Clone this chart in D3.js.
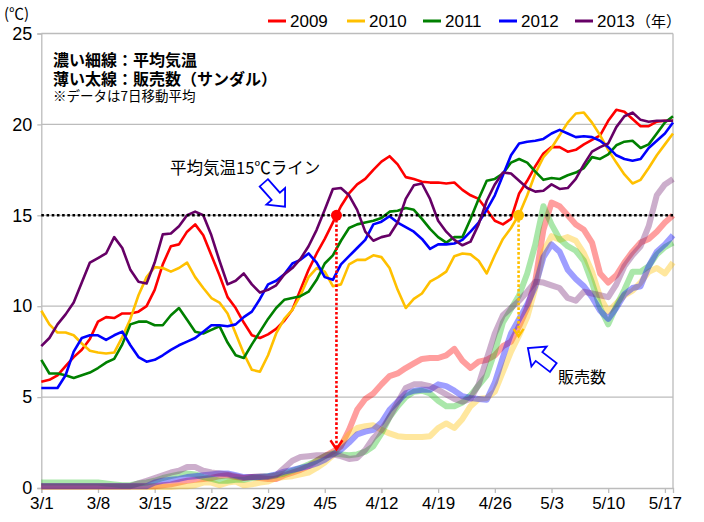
<!DOCTYPE html>
<html>
<head>
<meta charset="utf-8">
<script src="https://cdn.jsdelivr.net/npm/d3@7"></script>
<style>
body { margin: 0; background: #fff; }
svg text { font-family: "Liberation Sans", Arial, sans-serif; fill: #000; }
svg text.jp { font-family: "Noto Sans CJK JP", sans-serif; }
</style>
</head>
<body>
<script>
// 7-day moving averages, 3/1 .. 5/18 (one value per day)
temp2009 = [5.85,5.95,6.2,6.7,7.2,7.6,8.2,9.15,9.4,9.35, 9.6,9.6,9.7,10.0,10.9,12.3,13.3,13.4,14.1,14.5,
            13.9,12.8,11.7,10.5,9.9,9.1,8.4,8.25,8.45,8.75, 9.2,9.8,10.9,12.0,12.9,13.7,14.6,15.5,16.2,16.7,
            17.0,17.5,17.95,18.25,17.8,17.1,17.0,16.85,16.8,16.8, 16.75,16.8,16.4,16.1,15.9,15.3,14.7,14.5,14.8,16.2,
            16.9,17.7,18.4,18.75,18.75,18.5,18.6,18.9,19.15,19.4, 20.2,20.8,20.7,20.3,19.9,19.9,20.15,20.2,20.2];
temp2010 = [9.75,9.0,8.55,8.55,8.4,7.95,7.55,7.45,7.4,7.45, 8.3,9.3,10.6,11.6,12.15,12.1,11.9,12.1,12.4,11.6,
            11.0,10.45,10.2,9.6,8.5,7.4,6.5,6.4,7.3,8.5, 9.3,9.8,10.6,11.6,12.1,11.9,11.1,11.2,12.3,12.55,
            12.55,12.8,12.7,12.1,10.9,9.9,10.4,10.7,11.35,11.6, 11.9,12.75,12.9,12.85,12.5,11.8,12.8,13.7,14.3,15.05,
            16.1,17.3,18.2,18.7,19.4,20.1,20.6,20.65,20.1,19.4, 18.6,17.9,17.25,16.75,16.95,17.6,18.3,18.9,19.5];
temp2011 = [7.05,6.3,6.3,6.2,6.05,6.2,6.35,6.6,6.9,7.1, 7.9,9.0,9.15,9.15,8.95,8.95,9.5,9.9,9.25,8.6,
            8.5,8.7,8.9,8.0,7.3,7.15,7.9,8.6,9.3,9.9, 10.35,10.45,10.55,10.8,11.45,12.35,12.8,13.6,14.3,14.5,
            14.6,14.7,14.85,15.2,15.25,15.4,15.3,14.8,14.25,13.8, 13.5,13.8,13.8,14.8,15.9,16.9,17.0,17.3,17.9,18.1,
            17.9,17.4,16.95,17.05,17.0,17.2,17.35,17.6,18.2,18.1, 18.35,18.85,19.05,19.1,18.7,18.9,19.5,20.1,20.45];
temp2012 = [5.5,5.5,5.5,6.2,7.5,8.25,8.4,8.4,8.15,8.4, 8.6,7.85,7.2,6.95,7.05,7.3,7.6,7.85,8.05,8.25,
            8.6,8.95,8.95,8.9,9.0,9.4,9.7,10.4,11.2,11.4, 11.75,12.35,12.55,12.9,12.4,11.6,11.45,12.3,12.75,13.2,
            13.65,14.5,14.65,14.95,14.6,14.35,14.1,13.7,13.15,13.4, 13.4,13.45,13.65,14.1,14.6,15.3,16.1,17.2,18.3,18.95,
            19.05,19.1,19.2,19.5,19.7,19.5,19.3,19.35,19.3,19.1, 18.75,18.3,18.1,18.0,18.1,18.7,19.1,19.5,20.1];
temp2013 = [7.8,8.25,9.0,9.55,10.2,11.3,12.4,12.65,12.9,13.8, 13.2,12.0,11.35,11.25,12.4,13.95,14.0,14.4,15.0,15.2,
            15.0,13.9,12.5,11.2,11.4,11.8,11.2,10.75,10.9,11.15, 11.75,12.1,12.6,13.3,14.2,15.3,16.45,16.5,16.1,15.3,
            14.1,13.6,13.8,13.9,14.6,15.9,16.65,16.75,15.9,14.7, 14.1,13.65,13.35,13.55,14.5,15.8,16.7,17.35,17.3,16.9,
            16.5,16.3,16.35,16.7,16.45,16.5,17.0,17.8,18.5,18.75, 18.95,19.85,20.45,20.65,20.25,20.15,20.2,20.2,20.2];

sales2009 = [0.1,0.1,0.1,0.1,0.1,0.1,0.1,0.1,0.1,0.1, 0.1,0.1,0.1,0.1,0.1,0.15,0.2,0.3,0.4,0.45,
             0.5,0.55,0.65,0.7,0.6,0.55,0.6,0.55,0.5,0.5, 0.7,0.85,1.0,1.2,1.5,1.75,2.0,2.3,3.2,4.3,
             4.9,5.2,5.7,6.15,6.3,6.6,6.85,7.1,7.15,7.15, 7.3,7.65,7.0,6.6,6.95,7.05,7.3,7.8,8.05,8.9,
             9.9,11.4,14.2,15.7,15.5,15.0,14.5,14.2,13.5,11.8, 11.3,11.7,12.4,13.0,13.5,13.7,14.1,14.6,15.0];
sales2010 = [0.05,0.05,0.05,0.05,0.05,0.05,0.05,0.05,0.05,0.05, 0.05,0.05,0.05,0.05,0.05,0.05,0.05,0.1,0.1,0.15,
             0.3,0.3,0.15,0.3,0.35,0.15,0.2,0.3,0.35,0.55, 0.6,0.65,0.75,0.85,1.1,1.4,1.8,2.35,2.95,3.3,
             3.4,3.45,3.2,3.0,2.85,2.8,2.8,2.8,2.85,3.3, 3.55,3.3,3.8,4.5,4.9,4.95,5.3,6.4,7.5,8.4,
             9.4,11.0,13.0,13.85,13.65,13.8,13.6,12.9,11.9,10.5, 9.7,10.15,10.6,10.85,11.3,11.9,12.1,11.8,12.4];
sales2011 = [0.3,0.3,0.3,0.3,0.3,0.3,0.3,0.3,0.25,0.2, 0.15,0.15,0.25,0.3,0.4,0.55,0.65,0.75,0.8,0.75,
             0.6,0.5,0.4,0.4,0.45,0.45,0.55,0.6,0.65,0.7, 0.8,0.95,1.1,1.3,1.5,1.75,1.9,1.85,1.8,1.85,
             2.0,2.3,3.0,3.9,4.5,5.0,5.3,5.35,5.2,4.8, 4.5,4.5,4.7,5.1,5.65,6.2,7.5,9.1,9.85,10.6,
             11.8,13.4,15.5,14.5,13.7,13.3,13.05,12.5,11.3,9.9, 9.0,10.0,10.9,11.9,11.9,12.2,12.85,13.25,13.5];
sales2012 = [0.1,0.1,0.1,0.1,0.1,0.1,0.1,0.1,0.1,0.1, 0.1,0.1,0.1,0.1,0.3,0.4,0.45,0.5,0.6,0.65,
             0.7,0.75,0.8,0.8,0.7,0.6,0.6,0.6,0.65,0.75, 0.9,1.0,1.1,1.2,1.35,1.55,1.85,2.1,2.5,2.95,
             3.1,3.2,3.6,4.3,4.75,5.2,5.35,5.4,5.4,5.7, 5.6,5.35,5.05,4.95,4.9,4.85,5.8,7.2,8.5,9.3,
             10.1,11.1,12.7,13.4,13.0,12.0,11.5,11.1,10.5,9.75, 9.3,9.9,10.65,11.0,11.1,12.2,13.0,13.4,13.9];
sales2013 = [0.1,0.1,0.1,0.1,0.1,0.1,0.1,0.1,0.1,0.1, 0.1,0.1,0.25,0.4,0.55,0.7,0.85,0.95,1.15,1.15,
             0.95,0.85,0.8,0.75,0.65,0.55,0.6,0.65,0.6,0.7, 1.1,1.5,1.7,1.75,1.8,1.8,1.85,1.75,1.6,1.65,
             2.1,2.75,3.2,3.9,4.7,5.5,5.7,5.7,5.6,5.4, 5.15,4.9,4.75,4.9,5.7,7.1,8.5,9.5,9.9,10.3,
             10.8,11.35,11.3,11.15,11.0,10.45,10.3,10.8,10.7,10.6, 10.5,11.2,12.2,12.8,13.3,14.4,16.1,16.7,17.0];

years = ["2009", "2010", "2011", "2012", "2013"];
yearColors = ["#ff0000", "#ffc000", "#008000", "#0000ff", "#660066"];
salesColors = ["#ff0000", "#ffc000", "#1fbf1f", "#0000ff", "#7a2a7a"];
temps = [temp2009, temp2010, temp2011, temp2012, temp2013];
sales = [sales2009, sales2010, sales2011, sales2012, sales2013];
tickLabels = ["3/1", "3/8", "3/15", "3/22", "3/29", "4/5", "4/12", "4/19", "4/26", "5/3", "5/10", "5/17"];
yTicks = [0, 5, 10, 15, 20, 25];
LINE_LEVEL = 15;

var W = 704, H = 522;
var plotL = 41.3, plotR = 673, plotT = 33.5, plotB = 488;
var gridColor = "#bcbcbc";

var svg = d3.select("body").append("svg")
    .attr("width", W)
    .attr("height", H);

var x = d3.scaleLinear().domain([0, temp2009.length - 1]).range([plotL, plotR]);
var y = d3.scaleLinear().domain([0, 25]).range([plotB, plotT]);

// grid
svg.append("g").selectAll("line")
    .data(yTicks.filter(d => d > 0))
    .enter().append("line")
    .attr("x1", plotL).attr("x2", plotR)
    .attr("y1", d => y(d)).attr("y2", d => y(d))
    .style("stroke", gridColor).style("stroke-width", 1.3);

svg.append("line")
    .attr("x1", plotR).attr("x2", plotR).attr("y1", plotT).attr("y2", plotB)
    .style("stroke", gridColor).style("stroke-width", 1.3);

// axes
var yAxis = svg.append("g")
    .attr("transform", "translate(" + plotL + ",0)")
    .call(d3.axisLeft(y).tickValues(yTicks).tickSize(4).tickPadding(5));
var xAxis = svg.append("g")
    .attr("transform", "translate(0," + plotB + ")")
    .call(d3.axisBottom(x).tickValues(d3.range(0, 78, 7)).tickSize(5).tickPadding(4)
        .tickFormat((d, i) => tickLabels[i]));
[yAxis, xAxis].forEach(function(a) {
    a.select(".domain").style("stroke", gridColor).style("stroke-width", 1.3);
    a.selectAll(".tick line").style("stroke", gridColor).style("stroke-width", 1.3);
    a.selectAll("text").style("font-family", "'Liberation Sans', Arial, sans-serif").style("fill", "#000");
});
yAxis.selectAll("text").style("font-size", "18px");
xAxis.selectAll("text").style("font-size", "17px");

svg.append("text").attr("x", 4).attr("y", 19).style("font-size", "15px").attr("class", "jp").text("(℃)");

var line = d3.line().x((d, i) => x(i)).y(d => y(d));

// sales: light thick lines
svg.append("g").selectAll("path")
    .data(sales)
    .enter().append("path")
    .attr("d", line)
    .style("fill", "none")
    .style("stroke", (d, i) => salesColors[i])
    .style("stroke-opacity", 0.38)
    .style("stroke-width", 6)
    .style("stroke-linejoin", "round");

// temperature: dark thin lines
svg.append("g").selectAll("path")
    .data(temps)
    .enter().append("path")
    .attr("d", line)
    .style("fill", "none")
    .style("stroke", (d, i) => yearColors[i])
    .style("stroke-width", 2.6)
    .style("stroke-linejoin", "round");

// 15 degree line
svg.append("line")
    .attr("x1", plotL).attr("x2", plotR)
    .attr("y1", y(LINE_LEVEL)).attr("y2", y(LINE_LEVEL))
    .style("stroke", "#000").style("stroke-width", 2.6)
    .style("stroke-dasharray", "2.6,2.6");

function firstCrossing(vals, level) {
    for (var i = 0; i < vals.length - 1; i++) {
        if (vals[i] < level && vals[i + 1] >= level) {
            return i + (level - vals[i]) / (vals[i + 1] - vals[i]);
        }
    }
    return null;
}
function valueAt(vals, t) {
    var i = Math.floor(t);
    return vals[i] + (vals[i + 1] - vals[i]) * (t - i);
}

// crossing markers for 2009 and 2010
[0, 1].forEach(function(k) {
    var t = firstCrossing(temps[k], LINE_LEVEL);
    var cx = x(t), cy = y(LINE_LEVEL);
    var tipY = y(valueAt(sales[k], t));
    var g = svg.append("g");
    g.append("line")
        .attr("x1", cx).attr("x2", cx).attr("y1", cy).attr("y2", tipY - 2)
        .style("stroke", yearColors[k]).style("stroke-width", 2.6)
        .style("stroke-dasharray", "2.6,2");
    var hw = k == 0 ? 6 : 5, hh = k == 0 ? 9 : 7.5;
    g.append("path")
        .attr("d", "M" + (cx - hw) + "," + (tipY - hh) + "L" + cx + "," + tipY + "L" + (cx + hw) + "," + (tipY - hh))
        .style("fill", "none").style("stroke", yearColors[k]).style("stroke-width", 2.4);
    g.append("circle")
        .attr("cx", cx).attr("cy", cy).attr("r", 5.5)
        .style("fill", yearColors[k]);
});

// hollow block arrows
function blockArrow(tx, ty, angle) {
    var L = 32, h = 14, hw = 12.5, w = 5.5;
    var pts = [[0, -w], [L - h, -w], [L - h, -hw], [L, 0], [L - h, hw], [L - h, w], [0, w]];
    svg.append("path")
        .attr("d", "M" + pts.map(p => p.join(",")).join("L") + "Z")
        .attr("transform", "translate(" + tx + "," + ty + ") rotate(" + angle + ")")
        .style("fill", "#fff").style("stroke", "#0000ff").style("stroke-width", 1.8)
        .style("stroke-linejoin", "miter");
}
blockArrow(263.8, 182.8, 48.4);
blockArrow(553.3, 367.5, -142.5);

svg.append("text").attr("class", "jp").attr("x", 170).attr("y", 174)
    .style("font-size", "16.5px").text("平均気温15℃ライン");
svg.append("text").attr("class", "jp").attr("x", 558).attr("y", 383)
    .style("font-size", "16px").text("販売数");

// notes box
svg.append("text").attr("class", "jp").attr("x", 53).attr("y", 66)
    .style("font-size", "16px").style("font-weight", "bold").text("濃い細線：平均気温");
svg.append("text").attr("class", "jp").attr("x", 53).attr("y", 85)
    .style("font-size", "16px").style("font-weight", "bold").text("薄い太線：販売数（サンダル）");
svg.append("text").attr("class", "jp").attr("x", 53).attr("y", 101)
    .style("font-size", "13.5px").text("※データは7日移動平均");

// legend
var legendX = [268, 347, 423, 499, 575];
var legend = svg.append("g").selectAll("g")
    .data(years)
    .enter().append("g")
    .attr("transform", (d, i) => "translate(" + legendX[i] + ",21)");
legend.append("line")
    .attr("x1", 0).attr("x2", 18).attr("y1", 0).attr("y2", 0)
    .style("stroke", (d, i) => yearColors[i]).style("stroke-width", 3);
legend.append("text")
    .attr("x", 22).attr("y", 6)
    .style("font-size", "17px")
    .text(d => d);
svg.append("text").attr("class", "jp").attr("x", 636).attr("y", 27)
    .style("font-size", "15px").text("（年）");
</script>
</body>
</html>
